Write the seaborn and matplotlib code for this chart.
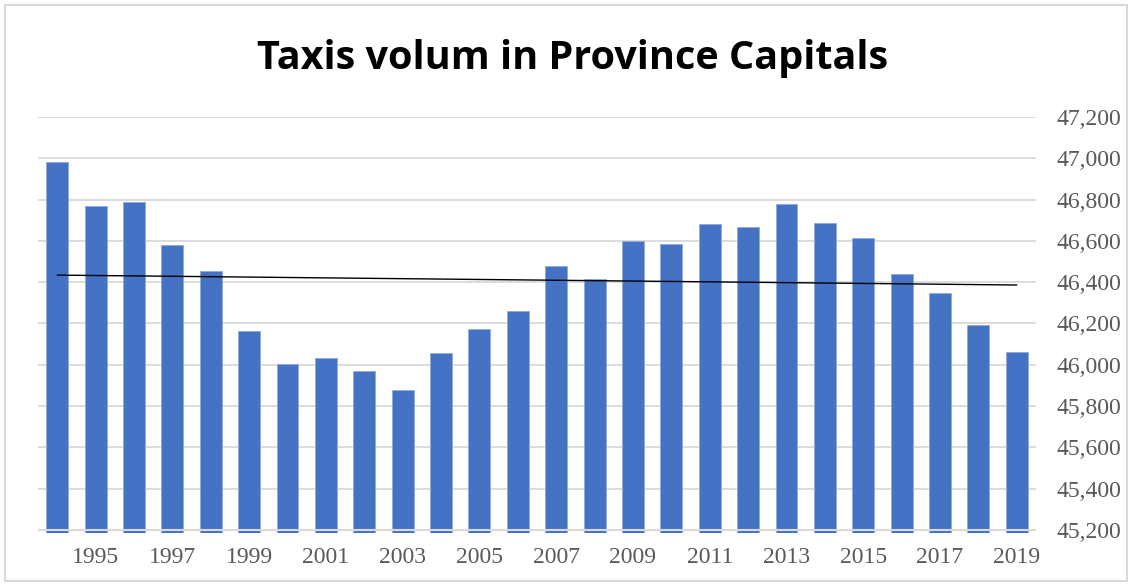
import numpy as np
import pandas as pd
import matplotlib
matplotlib.use("Agg")
import matplotlib.pyplot as plt
import seaborn as sns
from matplotlib.patches import Rectangle
from matplotlib.ticker import FuncFormatter

years = list(range(1994, 2020))
taxis = [46983, 46769, 46788, 46580, 46455, 46165, 46002, 46032, 45971, 45879,
         46058, 46172, 46261, 46478, 46415, 46601, 46585, 46684, 46667, 46780,
         46686, 46616, 46438, 46348, 46192, 46060]
y_ticks = list(range(45200, 47201, 200))
x_labels = [str(y) if y % 2 == 1 else "" for y in years]

df = pd.DataFrame({"year": [str(y) for y in years], "taxis": taxis})

sns.set_theme(style="white")
plt.rcParams["font.family"] = ["Liberation Serif", "DejaVu Serif"]

fig = plt.figure(figsize=(11.32, 5.86), dpi=100)
fig.patch.set_facecolor("white")
fig.patches.append(Rectangle((5 / 1132, 5 / 586), 1122 / 1132, 576 / 586,
                             transform=fig.transFigure, fill=False,
                             edgecolor="#D9D9D9", linewidth=1.5))

ax = fig.add_axes([38 / 1132, 53 / 586, 998 / 1132, 416 / 586])
sns.barplot(data=df, x="year", y="taxis", color="#4472C4", width=0.57,
            saturation=1, edgecolor="#8FAADC", linewidth=0.6, ax=ax, zorder=2)

# linear trendline across the bar centres
xs = np.arange(len(years))
slope, intercept = np.polyfit(xs, taxis, 1)
ax.plot([xs[0], xs[-1]], [intercept, intercept + slope * xs[-1]],
        color="black", linewidth=1.0, zorder=3)

ax.set_ylim(45185, 47200)
ax.set_xlim(-0.5, len(years) - 0.5)
ax.set_yticks(y_ticks)
ax.yaxis.set_major_formatter(FuncFormatter(lambda v, p: f"{int(v):,}"))
ax.yaxis.tick_right()
ax.set_xticks(xs)
ax.set_xticklabels(x_labels)
ax.grid(axis="y", color="#D9D9D9", linewidth=1.3, zorder=0)
ax.set_axisbelow(True)
ax.axhline(45200, color="#D9D9D9", linewidth=1.5, zorder=4)
for s in ax.spines.values():
    s.set_visible(False)
ax.tick_params(axis="both", length=0, labelsize=17, colors="#595959")
ax.tick_params(axis="y", pad=15)
ax.tick_params(axis="x", pad=10)
ax.set_xlabel("")
ax.set_ylabel("")

fig.text(573 / 1132, 1 - 59 / 586, "Taxis volum in Province Capitals",
         ha="center", va="center", fontsize=28.5, fontweight="bold",
         family=["Open Sans", "DejaVu Sans"], color="black")

fig.savefig("out.png", dpi=100)
